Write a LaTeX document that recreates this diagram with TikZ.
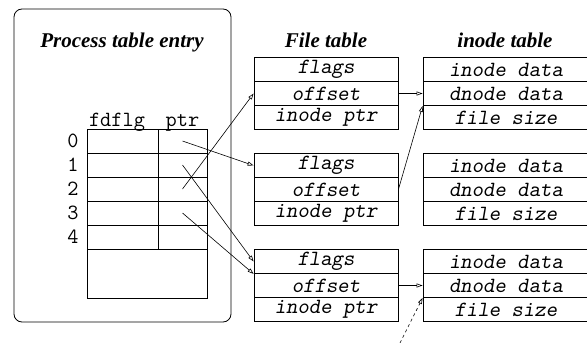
\documentclass[tikz,border=0pt]{standalone}
\usepackage{fontspec}
\setmainfont{Liberation Serif}
\newfontfamily\lmoblique{lmmonoslant10-regular.otf}
\usetikzlibrary{arrows.meta}
\newcommand{\oblmono}{\fontsize{21.7}{23}\selectfont\lmoblique}
\tikzset{
  title/.style={font=\fontsize{21}{23}\selectfont\bfseries\itshape, inner sep=0pt, anchor=base},
  mono/.style={font=\fontsize{21.7}{23}\selectfont\ttfamily, inner sep=0pt},
  cell/.style={draw, line width=0.8pt, inner sep=0pt, minimum height=24pt},
  fcell/.style={cell, minimum width=71pt},
  pcell/.style={cell, minimum width=49pt},
  frow/.style={cell, minimum width=144pt, font=\oblmono},
  irow/.style={cell, minimum width=166pt, font=\oblmono},
  ptrarrow/.style={line width=0.6pt, -{Triangle[open,length=6pt,width=4pt]}},
}
\begin{document}
\begin{tikzpicture}[x=1pt,y=-1pt]
\useasboundingbox (0,0) rectangle (587,343);
% process table entry frame
\node[draw, line width=0.8pt, rounded corners=8pt, minimum width=217pt, minimum height=313pt, inner sep=0pt] (frame) at (122.5,165.5) {};
\node[title] (ptitle) at (122,47) {Process table entry};
\node[title] (ftitle) at (326,47) {File table};
\node[title] (ititle) at (505,47) {inode table};
% header
\node[mono, anchor=base] (hfd) at (117,126) {fdflg};
\node[mono, anchor=base] (hptr) at (182.5,126) {ptr};
% process cells
\foreach \r in {0,...,4} {
  \pgfmathsetmacro{\yy}{141+24*\r}
  \node[fcell] (p\r f) at (122.5,\yy) {};
  \node[pcell] (p\r p) at (182.5,\yy) {};
  \node[mono] (l\r) at (73,\yy) {\r};
}
\node[cell, minimum width=120pt, minimum height=49pt] (pbot) at (147,273.5) {};
% file table
\foreach \b/\y in {1/69.5, 2/165.5, 3/261.5} {
  \node[frow] (f\b a) at (326,\y) {flags};
  \node[frow] (f\b b) at (326,\y+24) {offset};
  \node[frow] (f\b c) at (326,\y+48) {inode ptr};
  \node[irow] (i\b a) at (506,\y) {inode data};
  \node[irow] (i\b b) at (506,\y+24) {dnode data};
  \node[irow] (i\b c) at (506,\y+48) {file size};
}
% arrows
\draw[ptrarrow] (p0p.center) -- (f2a.west);
\draw[ptrarrow] (p2p.center) -- (f1b.west);
\draw[ptrarrow] (p1p.center) -- (f3a.west);
\draw[ptrarrow] (p3p.center) -- (f3a.south west);
\draw[ptrarrow] (f1b.east) -- (i1b.west);
\draw[ptrarrow] (f2b.east) -- (i1b.south west);
\draw[ptrarrow] (f3b.east) -- (i3b.west);
\coordinate (ext) at (400,343);
\draw[ptrarrow, dashed] (ext) -- (i3b.south west);
\end{tikzpicture}
\end{document}
